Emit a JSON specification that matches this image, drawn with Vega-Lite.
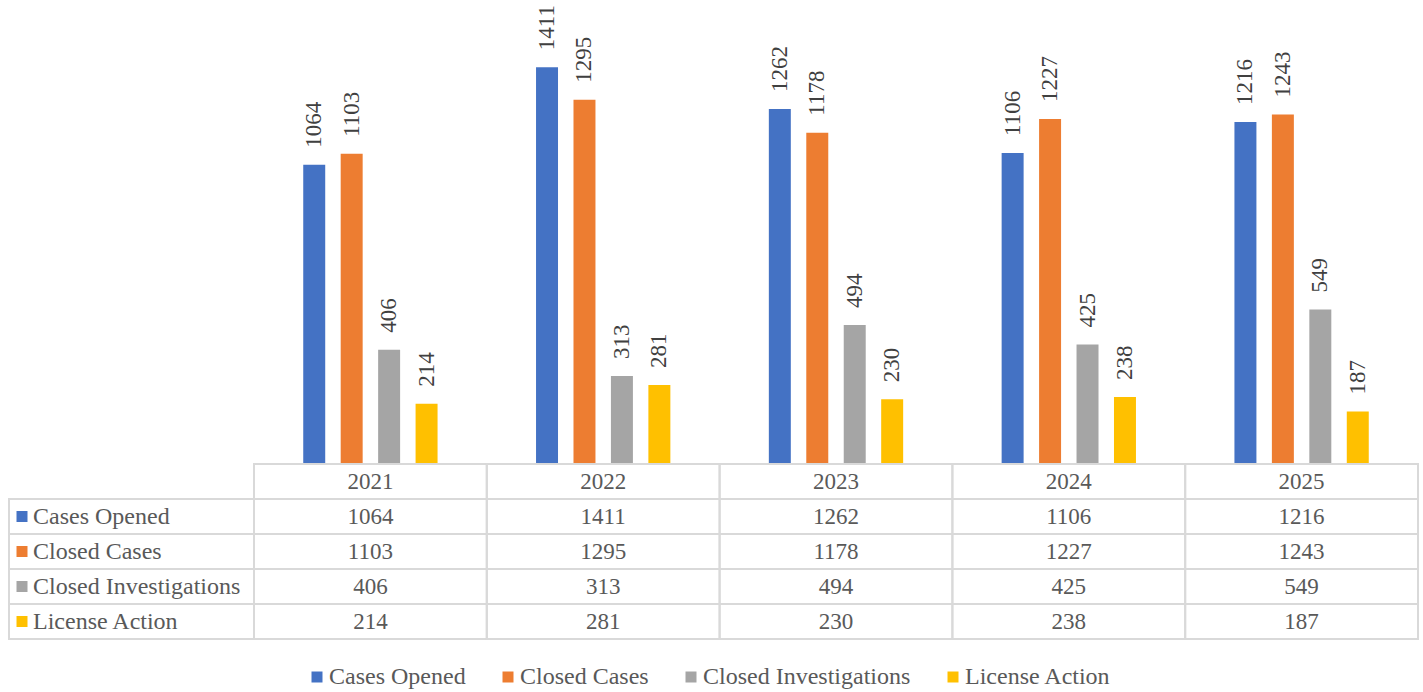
{
  "$schema": "https://vega.github.io/schema/vega-lite/v6.json",
  "padding": {"left": 8, "top": 5, "right": 4, "bottom": 4},
  "background": "white",
  "config": {
    "view": {"stroke": null},
    "font": "Liberation Serif",
    "text": {"font": "Liberation Serif"}
  },
  "datasets": {
    "main": [
      {"year": "2021", "series": "Cases Opened", "value": 1064},
      {"year": "2021", "series": "Closed Cases", "value": 1103},
      {"year": "2021", "series": "Closed Investigations", "value": 406},
      {"year": "2021", "series": "License Action", "value": 214},
      {"year": "2022", "series": "Cases Opened", "value": 1411},
      {"year": "2022", "series": "Closed Cases", "value": 1295},
      {"year": "2022", "series": "Closed Investigations", "value": 313},
      {"year": "2022", "series": "License Action", "value": 281},
      {"year": "2023", "series": "Cases Opened", "value": 1262},
      {"year": "2023", "series": "Closed Cases", "value": 1178},
      {"year": "2023", "series": "Closed Investigations", "value": 494},
      {"year": "2023", "series": "License Action", "value": 230},
      {"year": "2024", "series": "Cases Opened", "value": 1106},
      {"year": "2024", "series": "Closed Cases", "value": 1227},
      {"year": "2024", "series": "Closed Investigations", "value": 425},
      {"year": "2024", "series": "License Action", "value": 238},
      {"year": "2025", "series": "Cases Opened", "value": 1216},
      {"year": "2025", "series": "Closed Cases", "value": 1243},
      {"year": "2025", "series": "Closed Investigations", "value": 549},
      {"year": "2025", "series": "License Action", "value": 187}
    ]
  },
  "spacing": 0,
  "bounds": "flush",
  "vconcat": [
    {
      "width": 1409,
      "height": 450,
      "data": {"name": "main"},
      "encoding": {
        "x": {"field": "year", "type": "nominal", "axis": null,
              "scale": {"range": [245, 1409], "paddingInner": 0.423, "paddingOuter": 0.2115}},
        "xOffset": {"field": "series", "type": "nominal",
              "scale": {"domain": ["Cases Opened", "Closed Cases", "Closed Investigations", "License Action"], "paddingInner": 0.413, "paddingOuter": 0}},
        "y": {"field": "value", "type": "quantitative", "axis": null, "scale": {"domain": [0, 1600]}}
      },
      "layer": [
        {
          "mark": {"type": "bar"},
          "encoding": {
            "color": {"field": "series", "type": "nominal",
              "scale": {"domain": ["Cases Opened", "Closed Cases", "Closed Investigations", "License Action"],
                        "range": ["#4472C4", "#ED7D31", "#A5A5A5", "#FFC000"]},
              "legend": {"orient": "none", "legendX": 296, "legendY": 651, "direction": "horizontal",
                         "title": null, "symbolType": "square", "symbolSize": 121, "symbolStrokeWidth": 0,
                         "labelFont": "Liberation Serif", "labelFontSize": 24, "labelColor": "#595959",
                         "labelOffset": 0, "columnPadding": 30, "labelLimit": 400}}
          }
        },
        {
          "mark": {"type": "text", "angle": 270, "align": "left", "baseline": "middle", "dx": 17,
                   "font": "Liberation Serif", "fontSize": 23, "color": "#404040"},
          "encoding": {"text": {"field": "value", "type": "quantitative"}}
        }
      ]
    },
    {
      "spacing": 0,
      "bounds": "flush",
      "hconcat": [
        {
          "width": 245,
          "height": 175,
          "data": {"name": "main"},
          "transform": [{"filter": "datum.year == '2021'"}],
          "encoding": {
            "y": {"field": "series", "type": "nominal", "axis": null,
                  "scale": {"domain": ["Year", "Cases Opened", "Closed Cases", "Closed Investigations", "License Action"], "paddingInner": 0, "paddingOuter": 0}}
          },
          "layer": [
            {
              "mark": {"type": "rect", "filled": false, "stroke": "#d9d9d9", "strokeWidth": 2}
            },
            {
              "mark": {"type": "point", "shape": "square", "filled": true, "size": 121, "opacity": 1, "strokeWidth": 0},
              "encoding": {
                "x": {"datum": "key", "type": "nominal", "axis": null,
                      "scale": {"type": "point", "domain": ["key", "label"], "range": [13, 24], "padding": 0}},
                "color": {"field": "series", "type": "nominal",
                  "scale": {"domain": ["Cases Opened", "Closed Cases", "Closed Investigations", "License Action"],
                            "range": ["#4472C4", "#ED7D31", "#A5A5A5", "#FFC000"]},
                  "legend": {"orient": "none", "legendX": 296, "legendY": 651, "direction": "horizontal",
                         "title": null, "symbolType": "square", "symbolSize": 121, "symbolStrokeWidth": 0,
                         "labelFont": "Liberation Serif", "labelFontSize": 24, "labelColor": "#595959",
                         "labelOffset": 0, "columnPadding": 30, "labelLimit": 400}}
              }
            },
            {
              "mark": {"type": "text", "align": "left", "baseline": "middle", "font": "Liberation Serif", "fontSize": 24, "color": "#595959"},
              "encoding": {
                "x": {"datum": "label", "type": "nominal", "axis": null,
                      "scale": {"type": "point", "domain": ["key", "label"], "range": [13, 24], "padding": 0}},
                "text": {"field": "series", "type": "nominal"}
              }
            }
          ]
        },
        {
          "width": 1164,
          "height": 175,
          "data": {"name": "main"},
          "encoding": {
            "x": {"field": "year", "type": "nominal", "axis": null,
                  "scale": {"paddingInner": 0, "paddingOuter": 0}}
          },
          "layer": [
            {
              "mark": {"type": "rect", "filled": false, "stroke": "#d9d9d9", "strokeWidth": 2},
              "encoding": {
                "y": {"field": "series", "type": "nominal", "axis": null,
                      "scale": {"domain": ["Year", "Cases Opened", "Closed Cases", "Closed Investigations", "License Action"], "paddingInner": 0, "paddingOuter": 0}}
              }
            },
            {
              "transform": [{"filter": "datum.series == 'Cases Opened'"}],
              "mark": {"type": "rect", "filled": false, "stroke": "#d9d9d9", "strokeWidth": 2},
              "encoding": {
                "y": {"datum": "Year", "type": "nominal"}
              }
            },
            {
              "mark": {"type": "text", "align": "center", "baseline": "middle", "font": "Liberation Serif", "fontSize": 23, "color": "#595959"},
              "encoding": {
                "y": {"field": "series", "type": "nominal"},
                "text": {"field": "value", "type": "quantitative"}
              }
            },
            {
              "transform": [{"filter": "datum.series == 'Cases Opened'"}],
              "mark": {"type": "text", "align": "center", "baseline": "middle", "font": "Liberation Serif", "fontSize": 23, "color": "#595959"},
              "encoding": {
                "y": {"datum": "Year", "type": "nominal"},
                "text": {"field": "year", "type": "nominal"}
              }
            }
          ]
        }
      ]
    }
  ]
}
